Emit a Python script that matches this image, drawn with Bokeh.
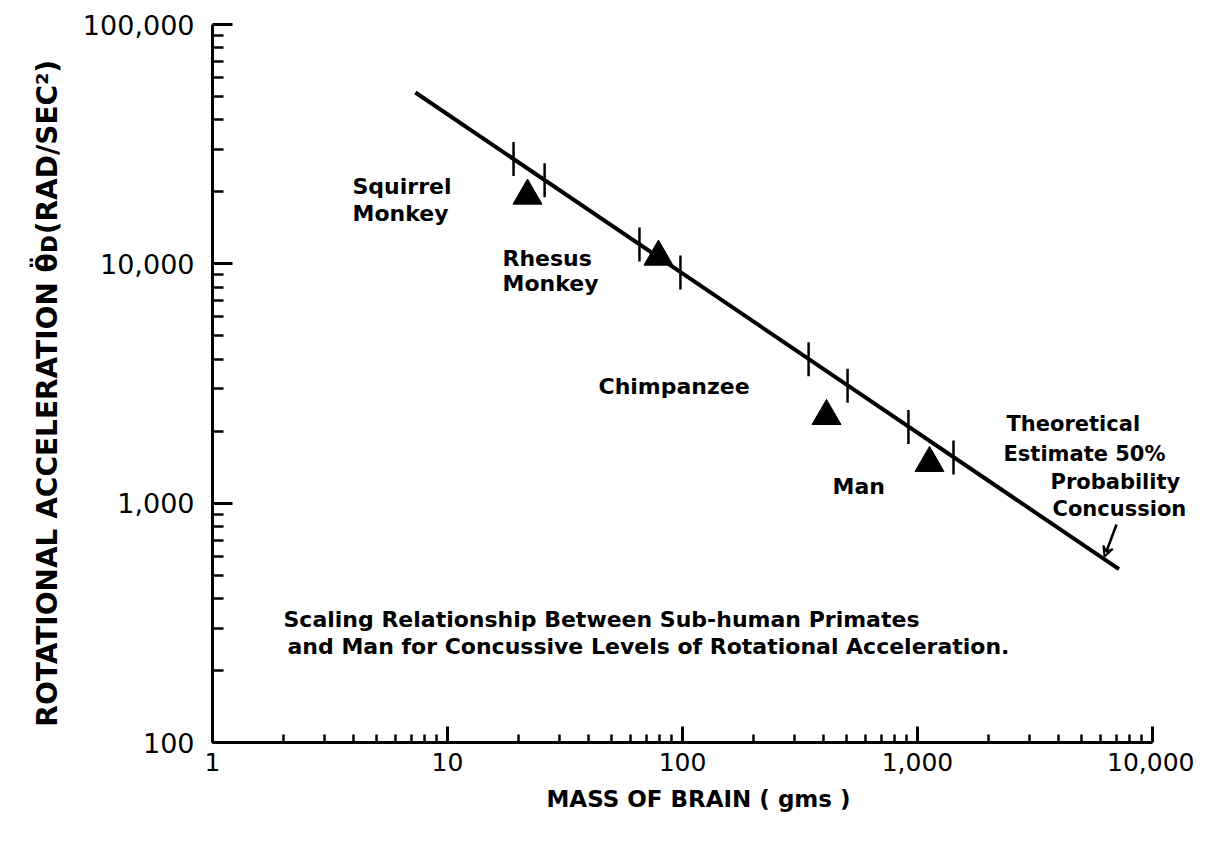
from bokeh.plotting import figure
from bokeh.models import FixedTicker, NumeralTickFormatter, Label, Arrow, VeeHead, Range1d
from bokeh.embed import file_html
from bokeh.resources import INLINE

# ---- data ----
species = ["Squirrel Monkey", "Rhesus Monkey", "Chimpanzee", "Man"]
brain_mass = [21.9, 79, 410, 1125]
rot_accel = [19250, 10700, 2310, 1470]

line_mass = [7.3, 7200]
line_accel = [52000, 530]

bar_mass = [19.1, 25.9, 65.6, 98, 344, 504, 915, 1423]
bar_accel = [27400, 22350, 12030, 9210, 3995, 3095, 2080, 1550]

x_ticks = [1, 10, 100, 1000, 10000]
y_ticks = [100, 1000, 10000, 100000]
x_title = "MASS OF BRAIN  ( gms )"
y_title = "ROTATIONAL  ACCELERATION  \u03b8\u0308\u1d05(RAD/SEC\u00b2)"
caption = ["Scaling Relationship Between Sub-human Primates",
           "and Man  for Concussive Levels of Rotational Acceleration."]
note = ["Theoretical", "Estimate 50%", "Probability", "Concussion"]

FONT = "DejaVu Sans"
W, H = 1194, 825

# picture-pixel -> data helpers (x 1..1e4 at px 212..1152, y 1e5..1e2 at px 24..742)
X0, X1, Y0, Y1 = 212, 1152, 24, 742
DEC_X = (X1 - X0) / 4
DEC_Y = (Y1 - Y0) / 3
FR = 1192  # right edge of the frame (extra room for the right-hand note)
def dx(px):
    return 10 ** ((px - X0) / DEC_X)
def dy(py):
    return 10 ** (5 - (py - Y0) / DEC_Y)

p = figure(width=W, height=H, x_axis_type="log", y_axis_type="log",
           x_range=Range1d(1, dx(FR)), y_range=Range1d(100, 100000),
           output_backend="svg", toolbar_location=None,
           min_border_left=X0, min_border_right=W - FR,
           min_border_top=Y0, min_border_bottom=H - Y1)
p.grid.visible = False
p.outline_line_color = None
p.background_fill_color = "white"
p.border_fill_color = "white"

xminor = [m * 10 ** k for k in range(0, 4) for m in range(2, 10)]
yminor = [m * 10 ** k for k in range(2, 5) for m in range(2, 10)]
p.xaxis.ticker = FixedTicker(ticks=x_ticks, minor_ticks=xminor)
p.yaxis.ticker = FixedTicker(ticks=y_ticks, minor_ticks=yminor)
p.xaxis.bounds = (1, 10000)
for ax in (p.xaxis, p.yaxis):
    ax.formatter = NumeralTickFormatter(format="0,0")
    ax.axis_line_width = 3
    ax.axis_line_color = "black"
    ax.major_tick_out = 0
    ax.minor_tick_out = 0
    ax.major_tick_line_width = 3
    ax.minor_tick_line_width = 2.5
    ax.major_tick_line_color = "black"
    ax.minor_tick_line_color = "black"
    ax.major_label_text_font = FONT
    ax.major_label_text_color = "black"
    ax.axis_label_text_font = FONT
    ax.axis_label_text_font_style = "bold"
    ax.axis_label_text_color = "black"

p.xaxis.major_label_text_font_size = "25px"
p.yaxis.major_label_text_font_size = "27px"
p.xaxis.major_tick_in = 16
p.xaxis.minor_tick_in = 8
p.yaxis.major_tick_in = 20
p.yaxis.minor_tick_in = 11
p.xaxis.major_label_standoff = 10
p.yaxis.major_label_standoff = 18
p.xaxis.axis_label = x_title
p.yaxis.axis_label = y_title
p.xaxis.axis_label_text_font_size = "23px"
p.yaxis.axis_label_text_font_size = "28px"
p.xaxis.axis_label_standoff = 12
p.yaxis.axis_label_standoff = 16

# theoretical estimate line
p.line(line_mass, line_accel, line_color="black", line_width=4)
# tick marks on the line
p.scatter(bar_mass, bar_accel, marker="dash", angle=1.5708, size=34,
          line_color="black", line_width=2.5)
# measured points
p.scatter(brain_mass, rot_accel, marker="triangle", size=29,
          fill_color="black", line_color="black")

def lab(text, px, py, size="22px", style="bold"):
    p.add_layout(Label(x=dx(px), y=dy(py), text=text, text_font=FONT,
                       text_font_size=size, text_font_style=style,
                       text_color="black", text_align="left",
                       text_baseline="middle"))

lab("Squirrel", 352, 186)
lab("Monkey", 352, 213)
lab("Rhesus", 502, 258)
lab("Monkey", 502, 283)
lab("Chimpanzee", 598, 386)
lab("Man", 832, 486)
lab(note[0], 1006, 423, size="21px")
lab(note[1], 1003, 453, size="21px")
lab(note[2], 1050, 481, size="21px")
lab(note[3], 1052, 508, size="21px")
lab(caption[0], 283, 619, size="22px")
lab(caption[1], 287, 646, size="22px")

p.add_layout(Arrow(end=VeeHead(size=10, line_width=2, line_color="black", fill_color=None),
                   x_start=dx(1116), y_start=dy(524), x_end=dx(1104), y_end=dy(556),
                   line_width=2.5, line_color="black"))

open("out.html", "w").write(file_html(p, INLINE))
